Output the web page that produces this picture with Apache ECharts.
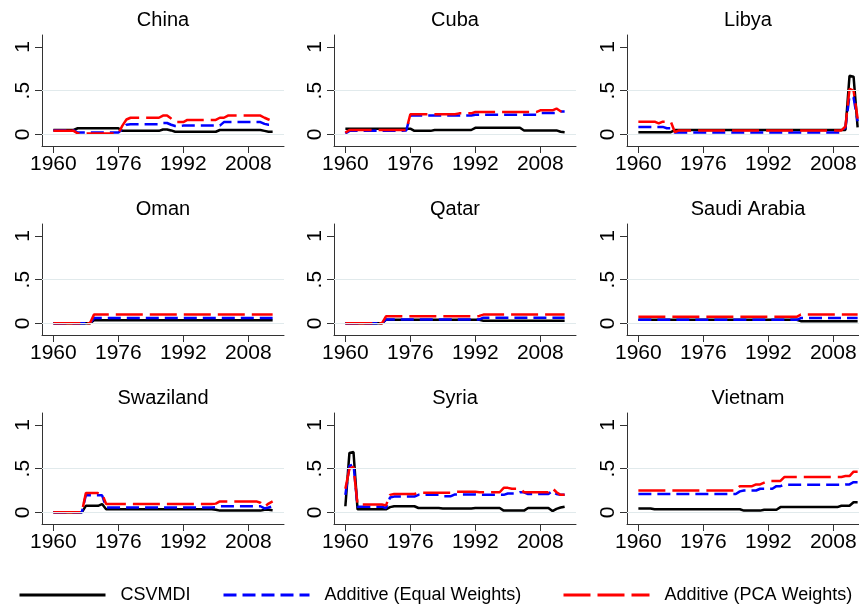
<!DOCTYPE html>
<html lang="en">
<head>
<meta charset="UTF-8">
<title>CSVMDI vs additive indices</title>
<script src="https://cdn.jsdelivr.net/npm/echarts@6.0.0/dist/echarts.min.js"></script>
<style>
  body { margin: 0; background: #fff; }
  #main { width: 859px; height: 607px; }
</style>
</head>
<body>
<div id="main"></div>
<script type="text/javascript">

// years on the x axis
var years = [1960,1961,1962,1963,1964,1965,1966,1967,1968,1969,
             1970,1971,1972,1973,1974,1975,1976,1977,1978,1979,
             1980,1981,1982,1983,1984,1985,1986,1987,1988,1989,
             1990,1991,1992,1993,1994,1995,1996,1997,1998,1999,
             2000,2001,2002,2003,2004,2005,2006,2007,2008,2009,
             2010,2011,2012,2013,2014];
var xTicks = [1960, 1976, 1992, 2008];
var yTicks = [0, 0.5, 1];
var seriesNames = ['CSVMDI', 'Additive (Equal Weights)', 'Additive (PCA Weights)'];

// China
var chinaCsv = [.05,.05,.05,.05,.05,.05,
  .07,.07,.07,.07,.07,.07,.07,.07,.07,.07,.07,
  .04,.04,.04,.04,.04,.04,.04,.04,.04,.04,
  .055,.055,.045,
  .03,.03,.03,.03,.03,.03,.03,.03,.03,.03,.03,
  .05,.05,.05,.05,.05,.05,.05,.05,.05,.05,.05,
  .04,.03,.03];
var chinaEq = [.045,.045,.045,.045,.045,.045,
  .02,.02,.02,.02,.02,.02,.02,.02,.02,.02,.02,
  .06,.11,
  .115,.115,.115,.115,.115,.115,.115,.115,
  .13,.13,.11,.095,.095,
  .10,.10,.10,.10,.10,.10,.10,.10,.10,.10,
  .14,.14,.14,.14,.14,.14,.14,.14,.14,.14,
  .12,.11,.11];
var chinaPca = [.04,.04,.04,.04,.04,.04,
  .01,.01,.01,.01,.01,.01,.01,.01,.01,.01,.01,
  .10,.17,
  .19,.19,.19,.19,.19,.19,.19,.19,
  .215,.215,.18,
  .14,.14,.14,
  .165,.165,.165,.165,.165,.165,.165,.165,
  .19,.19,
  .215,.215,.215,.215,.215,.215,.215,.215,.215,
  .19,.17,.15];

// Cuba
var cubaCsv = [.065,.065,.065,.065,.065,.065,.065,.065,.065,.065,
  .065,.065,.065,.065,.065,.065,.065,
  .04,.04,.04,.04,.04,
  .05,.05,.05,.05,.05,.05,.05,.05,.05,.05,
  .075,.075,.075,.075,.075,.075,.075,.075,.075,.075,.075,.075,
  .045,.045,.045,.045,.045,.045,.045,.045,.045,
  .03,.025];
var cubaEq = [.01,
  .04,.04,.04,.04,.04,.04,.04,.04,.04,.04,.04,.04,.04,.04,
  .045,
  .215,.215,.215,.215,.215,.215,.215,.215,.215,.215,.215,.215,.215,.215,.215,.215,
  .225,.225,.225,.225,.225,.225,.225,.225,.225,.225,.225,.225,.225,.225,.225,.225,
  .245,.245,.245,.245,.245,
  .26,.26];
var cubaPca = [.02,
  .05,.05,.05,.05,.05,.05,.05,.05,.05,.05,.05,.05,.05,.05,.05,
  .23,.23,.23,.23,.23,.23,.23,.23,.23,.23,.23,.23,
  .24,.24,.24,.24,
  .255,.255,.255,.255,.255,.255,.255,.255,.255,.255,.255,.255,.255,.255,.255,.255,
  .275,.275,.275,.275,
  .295,.265,.265];

// Libya
var libyaCsv = [.025,.025,.025,.025,.025,.025,.025,.025,.025,
  .05,.05,.05,.05,.05,.05,.05,.05,.05,.05,
  .05,.05,.05,.05,.05,.05,.05,.05,.05,.05,
  .05,.05,.05,.05,.05,.05,.05,.05,.05,.05,
  .05,.05,.05,.05,.05,.05,.05,.05,.05,.05,
  .05,.05,.05,
  .67,.66,.08];
var libyaEq = [.085,.085,.085,.085,.085,.085,.085,
  .07,.07,
  .02,.02,.02,.02,.02,.02,.02,.02,.02,.02,
  .02,.02,.02,.02,.02,.02,.02,.02,.02,.02,
  .02,.02,.02,.02,.02,.02,.02,.02,.02,.02,
  .02,.02,.02,.02,.02,.02,.02,.02,.02,.02,
  .02,.02,
  .08,.44,.42,.15];
var libyaPca = [.145,.145,.145,.145,.145,.125,.145,.145,.145,
  .025,
  .045,.045,.045,.045,.045,.045,.045,.045,.045,.045,
  .045,.045,.045,.045,.045,.045,.045,.045,.045,.045,
  .045,.045,.045,.045,.045,.045,.045,.045,.045,.045,
  .045,.045,.045,.045,.045,.045,.045,.045,.045,.045,
  .045,
  .09,.52,.50,.18];

// Oman
var omanCsv = [0,0,0,0,0,0,0,0,0,0,
  .035,.035,.035,.035,.035,.035,.035,.035,.035,.035,
  .035,.035,.035,.035,.035,.035,.035,.035,.035,.035,
  .035,.035,.035,.035,.035,.035,.035,.035,.035,.035,
  .035,.035,.035,.035,.035,.035,.035,.035,.035,.035,
  .035,.035,.035,.035,.035];
var omanEq = [0,0,0,0,0,0,0,0,0,0,
  .06,.06,.06,.06,.06,.06,.06,.06,.06,.06,
  .06,.06,.06,.06,.06,.06,.06,.06,.06,.06,
  .06,.06,.06,.06,.06,.06,.06,.06,.06,.06,
  .06,.06,.06,.06,.06,.06,.06,.06,.06,.06,
  .06,.06,.06,.06,.06];
var omanPca = [0,0,0,0,0,0,0,0,0,0,
  .10,.10,.10,.10,.10,.10,.10,.10,.10,.10,
  .10,.10,.10,.10,.10,.10,.10,.10,.10,.10,
  .10,.10,.10,.10,.10,.10,.10,.10,.10,.10,
  .10,.10,.10,.10,.10,.10,.10,.10,.10,.10,
  .10,.10,.10,.10,.10];

// Qatar
var qatarCsv = [0,0,0,0,0,0,0,0,0,0,
  .04,.04,.04,.04,.04,.04,.04,.04,.04,.04,
  .04,.04,.04,.04,.04,.04,.04,.04,.04,.04,
  .04,.04,.04,.04,
  .03,.03,.03,.03,.03,.03,.03,.03,.03,.03,
  .03,.03,.03,.03,.03,.03,.03,.03,.03,.03,
  .03];
var qatarEq = [0,0,0,0,0,0,0,0,0,0,
  .045,.045,.045,.045,.045,.045,.045,.045,.045,.045,
  .045,.045,.045,.045,.045,.045,.045,.045,.045,.045,
  .045,.045,.045,.045,
  .065,.065,.065,.065,.065,.065,.065,.065,.065,.065,
  .065,.065,.065,.065,.065,.065,.065,.065,.065,.065,
  .065];
var qatarPca = [0,0,0,0,0,0,0,0,0,0,
  .08,.08,.08,.08,.08,.08,.08,.08,.08,.08,
  .08,.08,.08,.08,.08,.08,.08,.08,.08,.08,
  .08,.08,.08,.085,
  .10,.10,.10,.10,.10,.10,.10,.10,.10,.10,
  .10,.10,.10,.10,.10,.10,.10,.10,.10,.10,
  .10];

// Saudi Arabia
var saudiCsv = [.04,.04,.04,.04,.04,.04,.04,.04,.04,.04,
  .04,.04,.04,.04,.04,.04,.04,.04,.04,.04,
  .04,.04,.04,.04,.04,.04,.04,.04,.04,.04,
  .04,.04,.04,.04,.04,.04,.04,.04,.04,.04,
  .025,.025,.025,.025,.025,.025,.025,.025,.025,.025,
  .025,.025,.025,.025,.025];
var saudiEq = [.04,.04,.04,.04,.04,.04,.04,.04,.04,.04,
  .04,.04,.04,.04,.04,.04,.04,.04,.04,.04,
  .04,.04,.04,.04,.04,.04,.04,.04,.04,.04,
  .04,.04,.04,.04,.04,.04,.04,.04,.04,.04,
  .06,.06,.06,.06,.06,.06,.06,.06,.06,.06,
  .06,.06,.06,.06,.06];
var saudiPca = [.075,.075,.075,.075,.075,.075,.075,.075,.075,.075,
  .075,.075,.075,.075,.075,.075,.075,.075,.075,.075,
  .075,.075,.075,.075,.075,.075,.075,.075,.075,.075,
  .075,.075,.075,.075,.075,.075,.075,.075,.075,.075,
  .10,.10,.10,.10,.10,.10,.10,.10,.10,.10,
  .10,.10,.10,.10,.10];

// Swaziland
var swaziCsv = [0,0,0,0,0,0,0,0,
  .075,.075,.075,.075,.095,
  .035,.035,.035,.035,.035,.035,.035,.035,.035,.035,
  .035,.035,.035,.035,.035,.035,.035,.035,.035,.035,
  .035,.035,.035,.035,.035,.035,.035,
  .03,
  .02,.02,.02,.02,.02,.02,.02,.02,.02,.02,.02,
  .03,.03,.025];
var swaziEq = [0,0,0,0,0,0,0,0,
  .195,.195,.195,.195,.195,
  .055,.055,.055,.055,.055,.055,.055,.055,.055,.055,
  .055,.055,.055,.055,.055,.055,.055,.055,.055,.055,
  .055,.055,.055,.055,.055,.055,.055,
  .06,
  .07,.07,.07,.07,.07,.07,.07,.07,.07,.07,.07,
  .045,.055,.07];
var swaziPca = [0,0,0,0,0,0,0,0,
  .22,.22,.22,.22,.21,
  .095,.095,.095,.095,.095,.095,.095,.095,.095,.095,
  .095,.095,.095,.095,.095,.095,.095,.095,.095,.095,
  .095,.095,.095,.095,.095,.095,.095,
  .10,
  .125,.125,.125,.125,.125,.125,.125,.125,.125,.125,
  .11,.065,.10,.125];

// Syria
var syriaCsv = [.07,.68,.69,
  .035,.035,.035,.035,.035,.035,.035,.035,
  .06,
  .07,.07,.07,.07,.07,.07,
  .05,.05,.05,.05,.05,.05,
  .045,.045,.045,.045,.045,.045,.045,.045,
  .05,.05,.05,.05,.05,.05,.05,
  .02,.02,.02,.02,.02,.02,
  .05,.05,.05,.05,.05,.05,
  .015,.04,.055,.065];
var syriaEq = [.20,.53,.55,
  .065,.065,.065,.065,.065,.065,.065,
  .05,.17,
  .18,.18,.18,.18,.18,.18,
  .20,.20,.20,.20,.20,.20,
  .185,.185,.185,
  .205,.205,.205,.205,.205,.205,
  .20,.20,.20,.20,.20,.20,.20,
  .215,.215,.215,
  .23,.23,
  .21,.21,.21,.21,.21,.21,
  .245,.21,.20,.20];
var syriaPca = [.27,.50,.52,
  .09,.09,.09,.09,.09,.09,.09,
  .08,.20,
  .21,.21,.21,.21,.21,.21,
  .225,.225,.225,.225,.225,.225,.225,.225,.225,
  .235,.235,.235,.235,.235,.235,
  .23,.23,.23,.23,.23,.23,
  .28,.28,
  .27,.27,.27,
  .23,.23,.23,.23,.23,.23,.23,
  .275,.23,.20,.20];

// Vietnam
var vietCsv = [.045,.045,.045,.045,
  .035,.035,.035,.035,.035,.035,.035,.035,.035,.035,
  .035,.035,.035,.035,.035,.035,.035,.035,.035,.035,
  .035,.035,
  .02,.02,.02,.02,.02,
  .03,.03,.03,.03,
  .06,.06,.06,.06,.06,.06,.06,.06,.06,.06,
  .06,.06,.06,.06,.06,
  .075,.075,.075,
  .115,.115];
var vietEq = [.21,.21,.21,.21,.21,.21,.21,.21,.21,.21,
  .21,.21,.21,.21,.21,.21,.21,.21,.21,.21,
  .21,.21,.21,.21,.21,
  .24,
  .25,.25,.25,.25,
  .27,.27,.27,.27,
  .30,.30,
  .315,.315,.315,.315,.315,.315,.315,.315,.315,.315,
  .315,.315,.315,.315,.315,
  .32,.32,
  .345,.345];
var vietPca = [.25,.25,.25,.25,.25,.25,.25,.25,.25,.25,
  .25,.25,.25,.25,.25,.25,.25,.25,.25,.25,
  .25,.25,.25,.25,.25,
  .30,.30,.30,.30,
  .32,.32,
  .34,
  .36,.36,.36,.36,
  .405,.405,.405,.405,.405,.405,.405,.405,.405,.405,
  .405,.405,.405,.405,.405,
  .415,.415,
  .465,.465];

var panels = [
  { name: 'China',        data: [chinaCsv, chinaEq, chinaPca] },
  { name: 'Cuba',         data: [cubaCsv, cubaEq, cubaPca] },
  { name: 'Libya',        data: [libyaCsv, libyaEq, libyaPca] },
  { name: 'Oman',         data: [omanCsv, omanEq, omanPca] },
  { name: 'Qatar',        data: [qatarCsv, qatarEq, qatarPca] },
  { name: 'Saudi Arabia', data: [saudiCsv, saudiEq, saudiPca] },
  { name: 'Swaziland',    data: [swaziCsv, swaziEq, swaziPca] },
  { name: 'Syria',        data: [syriaCsv, syriaEq, syriaPca] },
  { name: 'Vietnam',      data: [vietCsv, vietEq, vietPca] }
];

// layout of the 3x3 panels (third column runs past the right edge, as in the original)
var colLeft = [42, 334, 627];
var rowTop = [35, 224, 413];
var plotW = 242, plotH = 111;

var lineColors = ['#000000', '#0000ff', '#ff0000'];
var lineTypes = ['solid', [13, 6], [27, 7]];
var font = 'Liberation Sans, Arial, Helvetica, sans-serif';

var grids = [], xAxes = [], yAxes = [], titles = [], series = [];

panels.forEach(function (p, i) {
    var c = i % 3, r = Math.floor(i / 3);
    grids.push({
        left: colLeft[c], top: rowTop[r], width: plotW, height: plotH,
        containLabel: false, outerBoundsMode: 'none'
    });
    titles.push({
        text: p.name,
        left: colLeft[c] + plotW / 2,
        top: rowTop[r] - 25,
        textAlign: 'center',
        padding: 0,
        textStyle: { fontFamily: font, fontSize: 20, fontWeight: 'normal', color: '#000' }
    });
    xAxes.push({
        type: 'value', gridIndex: i, min: 1957.2, max: 2016.8,
        axisLine: { show: true, onZero: false, lineStyle: { color: '#333', width: 1 } },
        axisTick: { show: true, length: 7, customValues: xTicks, lineStyle: { color: '#333' } },
        axisLabel: {
            customValues: xTicks, margin: 8, fontFamily: font, fontSize: 21, color: '#000',
            formatter: function (v) { return String(v); }
        },
        splitLine: { show: false }
    });
    yAxes.push({
        type: 'value', gridIndex: i, min: -0.133, max: 1.136,
        axisLine: { show: true, onZero: false, lineStyle: { color: '#333', width: 1 } },
        axisTick: { show: true, length: 7, customValues: yTicks, lineStyle: { color: '#333' } },
        axisLabel: {
            customValues: yTicks, rotate: 90, margin: 8,
            fontFamily: font, fontSize: 21, color: '#000',
            formatter: function (v) { return v === 0.5 ? '.5' : String(v); }
        },
        splitLine: { show: false }
    });
    // faint horizontal gridlines at 0 and .5
    series.push({
        type: 'line', xAxisIndex: i, yAxisIndex: i, data: [], z: 0,
        markLine: {
            silent: true, symbol: 'none', animation: false,
            label: { show: false },
            lineStyle: { color: '#e1eaec', type: 'solid', width: 1 },
            data: [{ yAxis: 0 }, { yAxis: 0.5 }]
        }
    });
    p.data.forEach(function (vals, k) {
        var pts = [];
        for (var j = 0; j < years.length; j++) {
            pts.push([years[j], vals[j]]);
        }
        series.push({
            name: seriesNames[k], type: 'line', xAxisIndex: i, yAxisIndex: i,
            data: pts, symbol: 'none', z: 2 + k,
            lineStyle: { color: lineColors[k], width: 2.5, type: lineTypes[k] },
            itemStyle: { color: lineColors[k] }
        });
    });
});

// one legend per entry so each sits where the reference puts it
var legendLeft = [18, 222, 562];
var legends = seriesNames.map(function (n, k) {
    return {
        data: [n], left: legendLeft[k], top: 586, padding: 0,
        itemWidth: 86, itemHeight: 16,
        itemStyle: { opacity: 0, borderWidth: 0 },
        lineStyle: { width: 3 },
        textStyle: { fontFamily: font, fontSize: 18, color: '#000', padding: [0, 0, 0, 10] }
    };
});

var myChart = echarts.init(document.getElementById('main'));
myChart.setOption({
    animation: false,
    backgroundColor: '#fff',
    title: titles,
    legend: legends,
    grid: grids,
    xAxis: xAxes,
    yAxis: yAxes,
    series: series
});
</script>
</body>
</html>
